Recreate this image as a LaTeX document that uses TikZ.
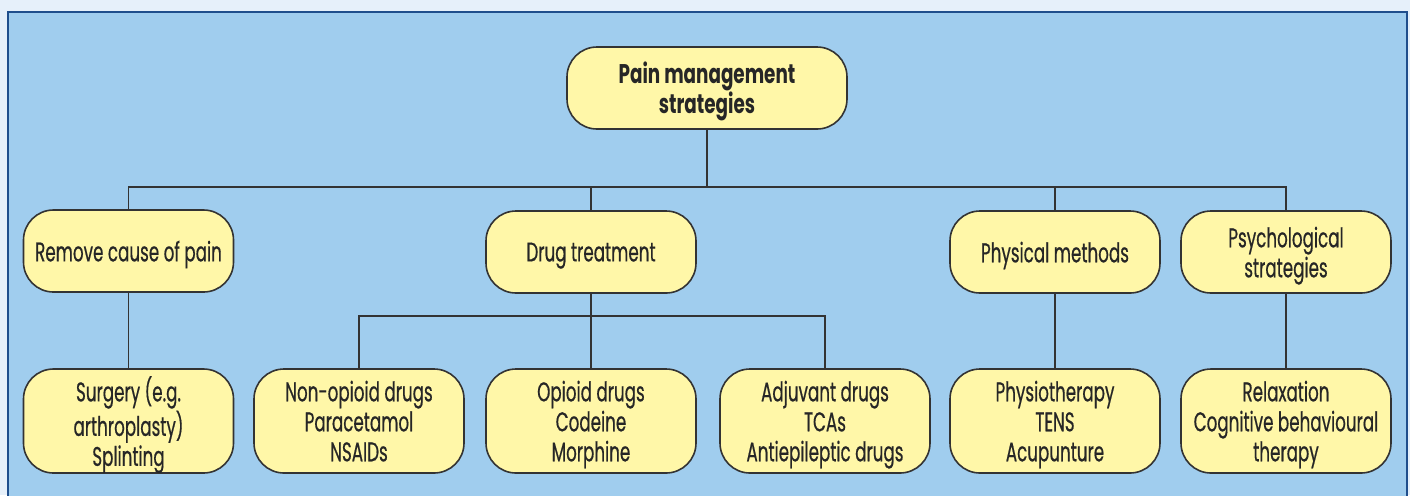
\documentclass[tikz,border=0pt]{standalone}
\usepackage{fontspec}
\setmainfont[FakeStretch=0.62,FakeBold=0.5]{Poppins}
\newfontfamily\rootfont[FakeStretch=0.68]{Poppins}
\usepackage{xcolor}
\usetikzlibrary{positioning}

\definecolor{paleblue}{HTML}{E6F0FA}
\definecolor{panelblue}{HTML}{A0CDEE}
\definecolor{frameblue}{HTML}{1F4E8C}
\definecolor{boxyellow}{HTML}{FFF7A8}
\definecolor{inkgrey}{HTML}{333333}

\tikzset{
 box/.style={draw=inkgrey, line width=0.8pt, fill=boxyellow, rounded corners=15pt,
  minimum width=105pt, minimum height=41pt, align=center, font=\fontsize{13.5}{15}\selectfont,
  text=black!85, inner sep=1pt, text depth=0pt},
 leaf/.style={box, minimum height=52pt},
 link/.style={draw=inkgrey, line width=0.8pt}
}

\begin{document}
\begin{tikzpicture}[x=0.5pt,y=-0.5pt]
 \useasboundingbox (0,0) rectangle (1410,495);
 \fill[paleblue] (0,0) rectangle (1410,495);
 \filldraw[fill=panelblue, draw=frameblue, line width=1pt] (8,12) rectangle (1407,510);

 \node[box, minimum width=140pt, font=\rootfont\bfseries\fontsize{13.5}{15}\selectfont] (root) at (707, 88) {Pain management\\strategies};
 \node[box] (remove) at (128.5, 251) {Remove cause of pain};
 \node[box] (drug) at (591, 252) {Drug treatment};
 \node[box] (phys) at (1055, 252) {Physical methods};
 \node[box] (psych) at (1286, 252) {Psychological\\strategies};

 \node[leaf] (surgery) at (128.5, 421) {Surgery (e.g.\\arthroplasty)\\Splinting};
 \node[leaf] (nonop) at (359, 421) {Non-opioid drugs\\Paracetamol\\NSAIDs};
 \node[leaf] (opioid) at (591, 421) {Opioid drugs\\Codeine\\Morphine};
 \node[leaf] (adjuv) at (825, 421) {Adjuvant drugs\\TCAs\\Antiepileptic drugs};
 \node[leaf] (physio) at (1055, 421) {Physiotherapy\\TENS\\Acupunture};
 \node[leaf] (relax) at (1286, 421) {Relaxation\\Cognitive behavioural\\therapy};

 \coordinate (topbus) at (707, 187);
 \coordinate (drugbus) at (591, 316);

 \path[link] (root) -- (topbus)
 (remove.north) |- (topbus) -| (psych.north)
 (drug.north) -- (drug.north |- topbus)
 (phys.north) -- (phys.north |- topbus);
 \path[link] (drug) -- (drugbus)
 (nonop.north) |- (drugbus) -| (adjuv.north)
 (opioid) -- (drugbus);
 \path[link] (remove) -- (surgery)
 (phys) -- (physio)
 (psych) -- (relax);
\end{tikzpicture}
\end{document}
